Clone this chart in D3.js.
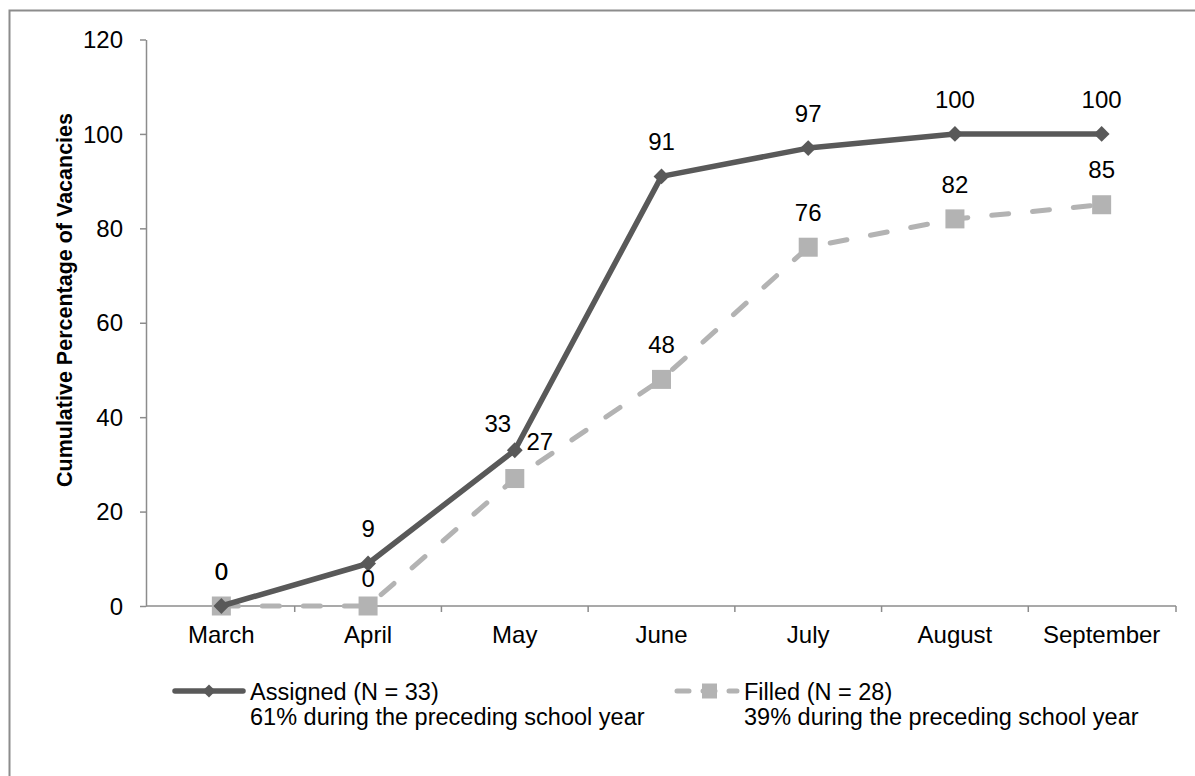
<!DOCTYPE html>
<html>
<head>
<meta charset="utf-8">
<script src="https://cdn.jsdelivr.net/npm/d3@7"></script>
<style>
  html, body { margin: 0; padding: 0; background: #fff; }
  svg { display: block; font-family: "Liberation Sans", Arial, sans-serif; }
</style>
</head>
<body>
<svg id="chart" width="1195" height="776"></svg>
<script>
// Cumulative share of vacancies by month
const months = ["March", "April", "May", "June", "July", "August", "September"];
const assigned = [0, 9, 33, 91, 97, 100, 100];
const filled = [0, 0, 27, 48, 76, 82, 85];
const yTicks = [0, 20, 40, 60, 80, 100, 120];
const seriesNames = ["Assigned (N = 33)", "Filled (N = 28)"];
const seriesNotes = ["61% during the preceding school year", "39% during the preceding school year"];

const svg = d3.select("#chart");
const W = 1195, H = 776;
const plot = { left: 146, right: 1176, top: 39.5, bottom: 606 };
const FS = 24;

const darkCol = "#595959";
const lightCol = "#b3b3b3";
const axisCol = "#8c8c8c";

// outer frame
svg.append("rect")
  .attr("x", 9.5).attr("y", 10.5)
  .attr("width", W + 20).attr("height", H + 20)
  .attr("fill", "none").attr("stroke", axisCol).attr("stroke-width", 2);

const x = d3.scaleBand().domain(months).range([148, 1175]);
const y = d3.scaleLinear().domain([0, 120]).range([plot.bottom, plot.top]);
const cx = m => x(m) + x.bandwidth() / 2;

// y axis
const yAxis = svg.append("g")
  .attr("transform", `translate(${plot.left},0)`)
  .call(d3.axisLeft(y).tickValues(yTicks).tickSize(6).tickPadding(17).tickSizeOuter(0));
yAxis.select(".domain").attr("stroke", axisCol).attr("stroke-width", 1.5);
yAxis.selectAll(".tick line").attr("stroke", axisCol).attr("stroke-width", 1.5);
yAxis.selectAll(".tick text")
  .attr("font-size", FS).attr("fill", "#000").attr("dy", "0.34em")
  .style("font-family", "Liberation Sans, Arial, sans-serif");

// x axis: ticks sit on category boundaries
const xAxisG = svg.append("g").attr("transform", `translate(0,${plot.bottom})`);
xAxisG.append("line")
  .attr("x1", plot.left).attr("x2", plot.right)
  .attr("y1", 0).attr("y2", 0)
  .attr("stroke", axisCol).attr("stroke-width", 1.5);
const bounds = months.map(m => x(m)).slice(1).concat([plot.right]);
xAxisG.selectAll("line.tk").data(bounds).join("line")
  .attr("class", "tk")
  .attr("x1", d => d).attr("x2", d => d)
  .attr("y1", 0).attr("y2", 6)
  .attr("stroke", axisCol).attr("stroke-width", 1.5);
xAxisG.selectAll("text").data(months).join("text")
  .attr("x", d => cx(d)).attr("y", 37)
  .attr("text-anchor", "middle")
  .attr("font-size", FS).attr("fill", "#000")
  .text(d => d);

// y axis title
svg.append("text")
  .attr("transform", "translate(72,300) rotate(-90)")
  .attr("text-anchor", "middle")
  .attr("font-size", 21.5).attr("font-weight", "bold").attr("fill", "#000")
  .text("Cumulative Percentage of Vacancies");

const line = d3.line().x((d, i) => cx(months[i])).y(d => y(d));

// Filled series (dashed, square markers)
svg.append("path")
  .datum(filled)
  .attr("d", line)
  .attr("fill", "none").attr("stroke", lightCol).attr("stroke-width", 5)
  .attr("stroke-linecap", "round")
  .attr("stroke-dasharray", "17 24");
svg.selectAll("rect.fsq").data(filled).join("rect")
  .attr("class", "fsq")
  .attr("x", (d, i) => cx(months[i]) - 9.5)
  .attr("y", d => y(d) - 9.5)
  .attr("width", 19).attr("height", 19)
  .attr("fill", lightCol);

// Assigned series (solid, diamond markers)
svg.append("path")
  .datum(assigned)
  .attr("d", line)
  .attr("fill", "none").attr("stroke", darkCol).attr("stroke-width", 5.5)
  .attr("stroke-linejoin", "round");
const diamond = d3.symbol().type(d3.symbolDiamond2).size(160);
svg.selectAll("path.adm").data(assigned).join("path")
  .attr("class", "adm")
  .attr("d", diamond)
  .attr("transform", (d, i) => `translate(${cx(months[i])},${y(d)})`)
  .attr("fill", darkCol);

// value labels; a few are nudged where the two series crowd each other
const labelShift = {
  "a2": [-17, 8],
  "f2": [25, -2],
  "f1": [0, 7]
};
function drawLabels(vals, key) {
  svg.selectAll(`text.lbl-${key}`).data(vals).join("text")
    .attr("class", `lbl-${key}`)
    .attr("x", (d, i) => cx(months[i]) + ((labelShift[key + i] || [0, 0])[0]))
    .attr("y", (d, i) => y(d) - 35 + ((labelShift[key + i] || [0, 0])[1]))
    .attr("dy", "0.36em")
    .attr("text-anchor", "middle")
    .attr("font-size", FS).attr("fill", "#000")
    .text(d => d);
}
drawLabels(assigned, "a");
drawLabels(filled, "f");

// legend
const legend = svg.append("g");
const legendItems = [
  { x0: 175, x1: 243, name: seriesNames[0], note: seriesNotes[0], kind: "a" },
  { x0: 677, x1: 737, name: seriesNames[1], note: seriesNotes[1], kind: "f" }
];
const ly = 691;
legendItems.forEach(it => {
  const mid = (it.x0 + it.x1) / 2;
  if (it.kind === "a") {
    legend.append("line")
      .attr("x1", it.x0).attr("x2", it.x1).attr("y1", ly).attr("y2", ly)
      .attr("stroke", darkCol).attr("stroke-width", 5.5).attr("stroke-linecap", "round");
    legend.append("path").attr("d", d3.symbol().type(d3.symbolDiamond2).size(110))
      .attr("transform", `translate(${mid},${ly})`).attr("fill", darkCol);
  } else {
    legend.append("line")
      .attr("x1", it.x0).attr("x2", it.x1).attr("y1", ly).attr("y2", ly)
      .attr("stroke", lightCol).attr("stroke-width", 5).attr("stroke-linecap", "round")
      .attr("stroke-dasharray", "12 14");
    legend.append("rect")
      .attr("x", 702).attr("y", ly - 7.5).attr("width", 15).attr("height", 15)
      .attr("fill", lightCol);
  }
  const tx = it.x1 + 7;
  const t = legend.append("text")
    .attr("x", tx).attr("y", 700)
    .attr("font-size", 23.5).attr("fill", "#000");
  t.append("tspan").attr("x", tx).text(it.name);
  t.append("tspan").attr("x", tx).attr("dy", 25).text(it.note);
});
</script>
</body>
</html>
